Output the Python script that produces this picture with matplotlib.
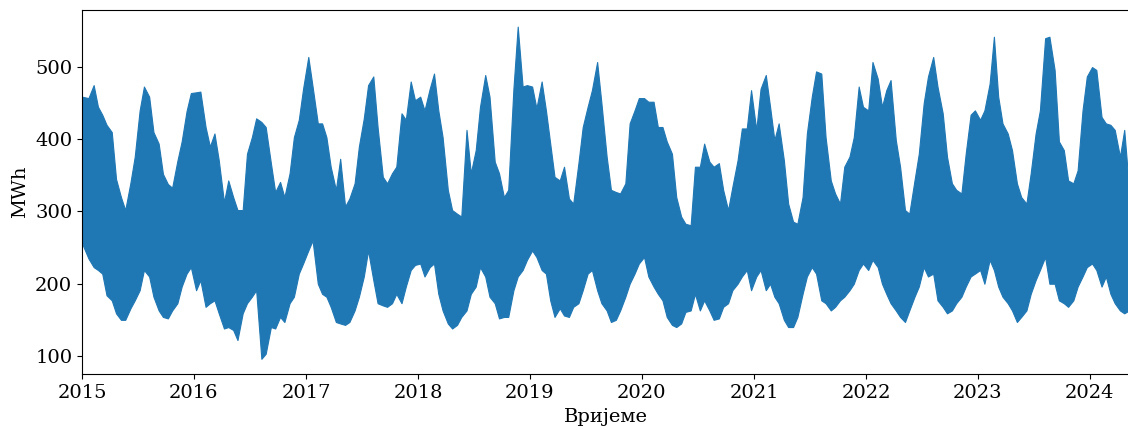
import numpy as np
import pandas as pd
import matplotlib
matplotlib.use("Agg")
import matplotlib.pyplot as plt
import matplotlib.dates as mdates

# Half-monthly envelope of hourly consumption (MWh)
start_date = "2015-01-01"
end_date = "2024-05-08"

hi = [
    # 2015
    459, 457, 475, 445, 434, 420, 410, 345, 320, 302, 340, 376, 440, 473, 459, 410, 394, 352, 338, 333, 370, 397, 439, 464,
    # 2016
    465, 466, 417, 390, 408, 371, 313, 343, 320, 302, 302, 380, 403, 429, 424, 417, 367, 327, 341, 320, 353, 403, 427, 470,
    # 2017
    514, 473, 422, 422, 403, 362, 330, 373, 307, 318, 339, 390, 429, 475, 487, 417, 348, 339, 353, 362, 436, 427, 480, 454,
    # 2018
    459, 440, 470, 491, 440, 403, 330, 302, 297, 293, 413, 353, 385, 445, 489, 459, 369, 353, 320, 330, 470, 556, 473, 475,
    # 2019
    473, 443, 480, 440, 394, 348, 343, 362, 318, 311, 367, 417, 445, 468, 507, 450, 376, 330, 327, 325, 339, 422, 440, 457,
    # 2020
    457, 452, 452, 417, 417, 397, 380, 320, 293, 283, 281, 362, 362, 394, 369, 362, 367, 330, 302, 334, 371, 415, 415, 468,
    # 2021
    413, 470, 489, 445, 399, 422, 371, 311, 286, 283, 320, 408, 459, 494, 491, 403, 343, 325, 311, 362, 376, 403, 473, 445,
    # 2022
    440, 507, 484, 445, 468, 482, 399, 362, 302, 297, 343, 380, 450, 487, 514, 473, 436, 376, 339, 330, 325, 380, 434, 440,
    # 2023
    427, 440, 477, 542, 459, 422, 408, 385, 339, 320, 311, 353, 408, 440, 540, 542, 496, 397, 385, 343, 339, 357, 440, 487,
    # 2024
    500, 496, 431, 422, 420, 413, 376, 413, 330,
]

lo = [
    # 2015
    256, 235, 223, 219, 214, 184, 177, 159, 150, 150, 166, 177, 191, 219, 210, 182, 163, 154, 152, 163, 173, 196, 214, 223,
    # 2016
    191, 205, 168, 173, 177, 159, 138, 140, 136, 122, 159, 173, 182, 191, 96, 103, 140, 138, 154, 147, 173, 182, 214, 228,
    # 2017
    246, 260, 200, 186, 182, 168, 147, 145, 143, 147, 163, 182, 210, 246, 205, 173, 170, 168, 173, 186, 173, 196, 219, 226,
    # 2018
    228, 210, 223, 228, 186, 163, 145, 138, 143, 154, 163, 186, 196, 223, 210, 182, 173, 152, 154, 154, 191, 210, 219, 233,
    # 2019
    246, 237, 219, 214, 177, 154, 166, 156, 154, 168, 173, 191, 214, 219, 191, 173, 163, 147, 150, 163, 182, 200, 214, 228,
    # 2020
    237, 210, 196, 186, 177, 154, 143, 140, 145, 161, 163, 186, 163, 177, 163, 150, 152, 168, 173, 191, 200, 210, 219, 191,
    # 2021
    210, 219, 191, 200, 182, 173, 150, 140, 140, 154, 186, 210, 223, 214, 177, 173, 163, 168, 177, 182, 191, 200, 219, 228,
    # 2022
    219, 233, 223, 200, 186, 173, 163, 154, 147, 163, 182, 196, 223, 210, 214, 177, 168, 159, 163, 173, 182, 196, 210, 214,
    # 2023
    219, 200, 233, 219, 196, 182, 173, 163, 147, 154, 163, 186, 205, 219, 237, 200, 200, 177, 173, 168, 177, 196, 210, 223,
    # 2024
    228, 219, 196, 210, 186, 173, 163, 159, 163,
]

year_ticks = [2015, 2016, 2017, 2018, 2019, 2020, 2021, 2022, 2023, 2024]
y_ticks = [100, 200, 300, 400, 500]

plt.rcParams["font.family"] = ["DejaVu Serif"]

period_start = pd.date_range(start_date, periods=len(hi), freq="SMS")
x = (period_start + pd.Timedelta(days=7)).to_numpy()
x[0] = np.datetime64(start_date)
x[-1] = np.datetime64(end_date)

fig = plt.figure(figsize=(11.28, 4.30), dpi=100)
ax = fig.add_axes([82 / 1128, 1 - 374 / 430, 1.001 - 82 / 1128, 364 / 430])

color = "#1f77b4"
ax.fill_between(x, lo, hi, color=color, linewidth=0.8, edgecolor=color)

ax.set_xlim(np.datetime64(start_date), np.datetime64(end_date))
ax.set_ylim(75, 579)
ax.set_xticks([np.datetime64(f"{y}-01-01") for y in year_ticks])
ax.xaxis.set_major_formatter(mdates.DateFormatter("%Y"))
ax.set_yticks(y_ticks)
ax.tick_params(labelsize=14)
ax.set_xlabel("Вријеме", fontsize=14, labelpad=4.5)
ax.set_ylabel("MWh", fontsize=14)

fig.savefig("out.png", dpi=100)
